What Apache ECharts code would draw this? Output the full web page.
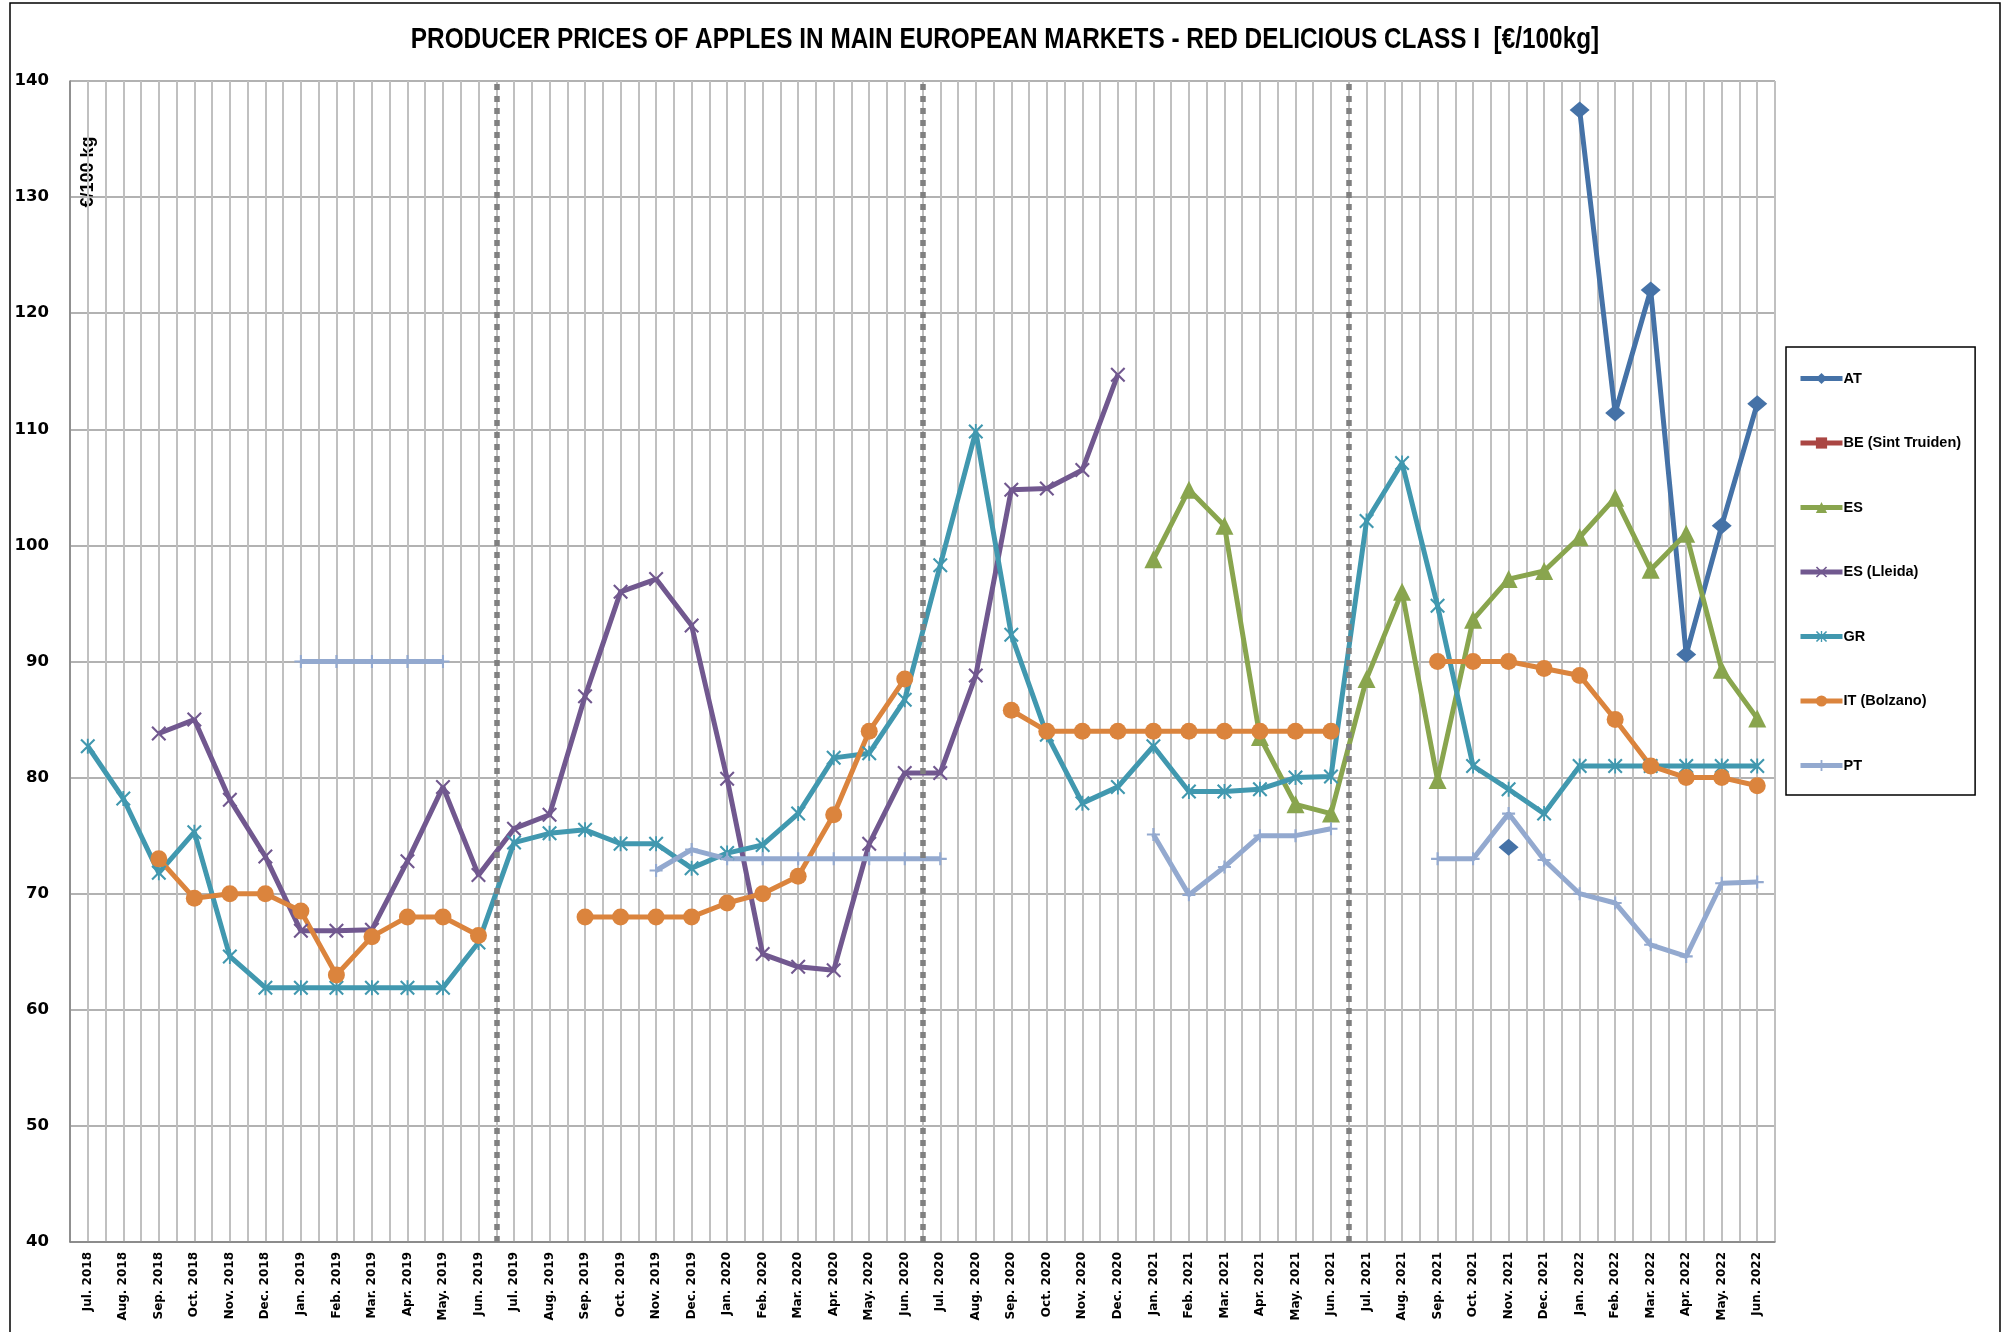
<!DOCTYPE html>
<html>
<head>
<meta charset="utf-8">
<script src="https://cdn.jsdelivr.net/npm/echarts@6/dist/echarts.min.js"></script>
<style>
  html, body { margin: 0; padding: 0; background: #fff; }
  #chart { width: 2007px; height: 1332px; }
</style>
</head>
<body>
<div id="chart"></div>
<script>
// Mois (catégories de l'axe X)
const months = [
  'Jul. 2018', 'Aug. 2018', 'Sep. 2018', 'Oct. 2018', 'Nov. 2018', 'Dec. 2018',
  'Jan. 2019', 'Feb. 2019', 'Mar. 2019', 'Apr. 2019', 'May. 2019', 'Jun. 2019',
  'Jul. 2019', 'Aug. 2019', 'Sep. 2019', 'Oct. 2019', 'Nov. 2019', 'Dec. 2019',
  'Jan. 2020', 'Feb. 2020', 'Mar. 2020', 'Apr. 2020', 'May. 2020', 'Jun. 2020',
  'Jul. 2020', 'Aug. 2020', 'Sep. 2020', 'Oct. 2020', 'Nov. 2020', 'Dec. 2020',
  'Jan. 2021', 'Feb. 2021', 'Mar. 2021', 'Apr. 2021', 'May. 2021', 'Jun. 2021',
  'Jul. 2021', 'Aug. 2021', 'Sep. 2021', 'Oct. 2021', 'Nov. 2021', 'Dec. 2021',
  'Jan. 2022', 'Feb. 2022', 'Mar. 2022', 'Apr. 2022', 'May. 2022', 'Jun. 2022'
];

const yTicks = [40, 50, 60, 70, 80, 90, 100, 110, 120, 130, 140];

// Prix (€/100kg), null = pas de donnée
const at = [
  null, null, null, null, null, null, null, null, null, null, null, null,
  null, null, null, null, null, null, null, null, null, null, null, null,
  null, null, null, null, null, null, null, null, null, null, null, null,
  null, null, null, null, 74.0, null, 137.5, 111.4, 122.0, 90.6, 101.7, 112.2
];
const be = new Array(48).fill(null);
const es = [
  null, null, null, null, null, null, null, null, null, null, null, null,
  null, null, null, null, null, null, null, null, null, null, null, null,
  null, null, null, null, null, null, 98.8, 104.8, 101.7, 83.5, 77.7, 76.9,
  88.5, 96.0, 79.8, 93.6, 97.1, 97.8, 100.7, 104.1, 97.9, 101.0, 89.3, 85.1
];
const esLleida = [
  null, null, 83.8, 85.0, 78.1, 73.2, 66.8, 66.8, 66.9, 72.8, 79.2, 71.6,
  75.6, 76.8, 87.0, 96.0, 97.1, 93.1, 79.9, 64.8, 63.7, 63.4, 74.3, 80.4,
  80.4, 88.8, 104.8, 104.9, 106.5, 114.7, null, null, null, null, null, null,
  null, null, null, null, null, null, null, null, null, null, null, null
];
const gr = [
  82.7, 78.2, 71.8, 75.3, 64.6, 61.9, 61.9, 61.9, 61.9, 61.9, 61.9, 65.8,
  74.4, 75.2, 75.5, 74.3, 74.3, 72.2, 73.5, 74.2, 76.9, 81.7, 82.1, 86.7,
  98.3, 109.8, 92.3, 83.7, 77.8, 79.2, 82.7, 78.8, 78.8, 79.0, 80.0, 80.1,
  102.1, 107.1, 94.8, 81.0, 79.0, 76.9, 81.0, 81.0, 81.0, 81.0, 81.0, 81.0
];
const itBolzano = [
  null, null, 73.0, 69.6, 70.0, 70.0, 68.5, 63.0, 66.3, 68.0, 68.0, 66.4,
  null, null, 68.0, 68.0, 68.0, 68.0, 69.2, 70.0, 71.5, 76.8, 84.0, 88.5,
  null, null, 85.8, 84.0, 84.0, 84.0, 84.0, 84.0, 84.0, 84.0, 84.0, 84.0,
  null, null, 90.0, 90.0, 90.0, 89.4, 88.8, 85.0, 81.0, 80.0, 80.0, 79.3
];
const pt = [
  null, null, null, null, null, null, 90.0, 90.0, 90.0, 90.0, 90.0, null,
  null, null, null, null, 72.0, 73.8, 73.0, 73.0, 73.0, 73.0, 73.0, 73.0,
  73.0, null, null, null, null, null, 75.1, 69.9, 72.3, 75.0, 75.0, 75.6,
  null, null, 73.0, 73.0, 76.9, 72.9, 70.0, 69.2, 65.6, 64.6, 70.9, 71.0
];

// séparateurs de campagne (en demi-mois sur l'axe secondaire)
const seasonBreaks = [24, 48, 72];

const crossPath = 'path://M0,1 L1,0 L10,9 L9,10 Z M9,0 L10,1 L1,10 L0,9 Z';
const starPath = 'path://M0,1 L1,0 L10,9 L9,10 Z M9,0 L10,1 L1,10 L0,9 Z M4.4,0 L5.6,0 L5.6,10 L4.4,10 Z';
const plusPath = 'path://M4.2,0 L5.8,0 L5.8,10 L4.2,10 Z M0,4.2 L10,4.2 L10,5.8 L0,5.8 Z';

const textFont = 'Liberation Sans, Arial, sans-serif';

function mkSeries(name, data, color, symbol, size) {
  return {
    name: name,
    type: 'line',
    data: data,
    color: color,
    symbol: symbol,
    symbolSize: size,
    showSymbol: true,
    connectNulls: false,
    lineStyle: { width: 5, color: color },
    itemStyle: { color: color }
  };
}

const chart = echarts.init(document.getElementById('chart'));
const option = {
  animation: false,
  backgroundColor: '#fff',
  legend: {
    orient: 'vertical',
    left: 1786,
    top: 347,
    padding: [24, 14, 22, 12],
    itemWidth: 42,
    itemHeight: 14,
    itemGap: 49.5,
    borderColor: '#000',
    borderWidth: 1.5,
    lineStyle: { width: 5 },
    data: ['AT', 'BE (Sint Truiden)', 'ES', 'ES (Lleida)', 'GR', 'IT (Bolzano)', 'PT'],
    textStyle: {
      fontFamily: textFont,
      fontWeight: 'bold',
      fontSize: 14.5,
      color: '#000',
      padding: [0, 0, 0, -4]
    }
  },
  grid: { left: 70, right: 232, top: 81, bottom: 90 },
  xAxis: [
    {
      type: 'category',
      data: months,
      boundaryGap: true,
      axisLine: { lineStyle: { color: '#808080', width: 1.5 } },
      axisTick: { show: false },
      splitLine: { show: false },
      axisLabel: {
        interval: 0,
        rotate: 90,
        margin: 10,
        fontFamily: 'DejaVu Sans, Verdana, sans-serif',
        fontWeight: 'bold',
        fontSize: 12,
        color: '#000'
      }
    },
    {
      // grille verticale à chaque demi-mois
      type: 'value',
      min: 0,
      max: 96,
      interval: 1,
      position: 'bottom',
      axisLine: { show: false },
      axisTick: { show: false },
      axisLabel: { show: false },
      splitLine: { show: true, lineStyle: { color: '#c0c0c0', width: 2 } }
    }
  ],
  yAxis: {
    type: 'value',
    min: yTicks[0],
    max: yTicks[yTicks.length - 1],
    interval: 10,
    axisLine: { show: true, lineStyle: { color: '#808080', width: 1.5 } },
    axisTick: { show: false },
    splitLine: { lineStyle: { color: '#999', width: 1.5 } },
    axisLabel: {
      margin: 21,
      fontFamily: 'DejaVu Sans, Verdana, sans-serif',
      fontWeight: 'bold',
      fontSize: 16.5,
      color: '#000'
    }
  },
  graphic: [
    {
      type: 'rect',
      silent: true,
      shape: { x: 10, y: 3, width: 1990, height: 1400 },
      style: { fill: 'none', stroke: '#000', lineWidth: 1.5 }
    },
    {
      // titre, condensé horizontalement
      type: 'text',
      x: 1005,
      y: 40,
      scaleX: 0.84,
      silent: true,
      style: {
        text: 'PRODUCER PRICES OF APPLES IN MAIN EUROPEAN MARKETS - RED DELICIOUS CLASS I  [€/100kg]',
        fontFamily: textFont,
        fontWeight: 'bold',
        fontSize: 29,
        fill: '#000',
        align: 'center',
        verticalAlign: 'middle'
      }
    },
    {
      type: 'text',
      x: 88,
      y: 172,
      rotation: Math.PI / 2,
      silent: true,
      style: {
        text: '€/100 kg',
        fontFamily: textFont,
        fontWeight: 'bold',
        fontSize: 18,
        fill: '#000',
        align: 'center',
        verticalAlign: 'middle'
      }
    }
  ],
  series: [
    {
      name: 'breaks',
      type: 'line',
      xAxisIndex: 1,
      data: [],
      silent: true,
      markLine: {
        symbol: 'none',
        silent: true,
        label: { show: false },
        lineStyle: { color: '#808080', width: 5.5, type: [6, 6] },
        data: seasonBreaks.map(v => ({ xAxis: v }))
      }
    },
    mkSeries('AT', at, '#4572A7', 'diamond', [20, 17]),
    mkSeries('BE (Sint Truiden)', be, '#AA4643', 'rect', 12),
    mkSeries('ES', es, '#89A54E', 'triangle', 18),
    mkSeries('ES (Lleida)', esLleida, '#71588F', crossPath, 15),
    mkSeries('GR', gr, '#4198AF', starPath, 15),
    mkSeries('IT (Bolzano)', itBolzano, '#DB843D', 'circle', 17),
    mkSeries('PT', pt, '#93A9CF', plusPath, 13)
  ]
};
chart.setOption(option);
</script>
</body>
</html>
